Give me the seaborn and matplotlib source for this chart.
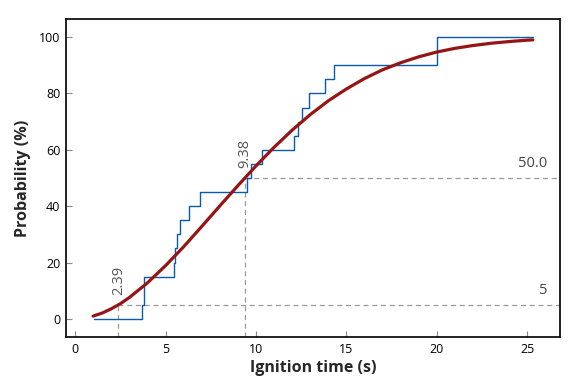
import pandas as pd
import matplotlib
matplotlib.use('Agg')
import matplotlib.pyplot as plt
import seaborn as sns

step_t = [1.05, 3.72, 3.83, 5.45, 5.54, 5.65, 5.81, 6.31, 6.92, 9.51, 9.72,
          10.33, 12.1, 12.33, 12.55, 12.93, 13.8, 14.3, 20.0, 25.3]
step_p = [0, 5, 15, 20, 25, 30, 35, 40, 45, 50, 55,
          60, 65, 70, 75, 80, 85, 90, 100, 100]

# fitted curve, read at each second
fit_t = [1, 1.5, 2, 2.5, 3, 4, 5, 6, 7, 8, 9, 10, 11, 12, 13, 14, 15, 16,
         17, 18, 19, 20, 21, 22, 23, 24, 25, 25.3]
fit_p = [1.0, 2.1, 3.6, 5.4, 7.6, 12.8, 18.9, 25.6, 32.8, 40.1, 47.3, 54.3,
         60.9, 67.0, 72.5, 77.4, 81.6, 85.3, 88.4, 90.9, 93.0, 94.7, 96.0,
         97.0, 97.8, 98.4, 98.9, 99.0]

# percentile markers
pct_levels = [5, 50]
pct_times = [2.39, 9.38]
pct_level_labels = ['5', '50.0']
pct_time_labels = ['2.39', '9.38']

sns.set_style('white')
plt.rcParams['font.family'] = ['Open Sans', 'DejaVu Sans']

steps = pd.DataFrame({'t': step_t, 'p': step_p})
fit = pd.DataFrame({'t': fit_t, 'p': fit_p})

fig = plt.figure(figsize=(5.76, 3.84), dpi=100)
ax = fig.add_axes([66/576, 1-337/384, (560-66)/576, (337-19)/384])

xmin, xmax = -0.5, 26.8
ymin, ymax = -6.4, 106.4

for lvl, tm, ll, tl in zip(pct_levels, pct_times, pct_level_labels, pct_time_labels):
    ax.plot([tm, xmax], [lvl, lvl], ls='--', color='#999999', lw=0.9, dashes=(4, 3))
    ax.plot([tm, tm], [ymin, lvl], ls='--', color='#999999', lw=0.9, dashes=(4, 3))
    ax.text(26.1, lvl + 2.5, ll, ha='right', va='bottom', color='#444444',
            fontsize=10.5, fontweight='medium')
    ax.text(tm, lvl + 3.5, tl, rotation=90, ha='center', va='bottom',
            color='#555555', fontsize=10.5, fontweight='medium')

sns.lineplot(x='t', y='p', data=steps, drawstyle='steps-post', color='#0a5aa8',
             lw=1.0, ax=ax)
sns.lineplot(x='t', y='p', data=fit, color='#951515', lw=2.3, ax=ax)

ax.set_xlim(xmin, xmax)
ax.set_ylim(ymin, ymax)
ax.set_xticks([0, 5, 10, 15, 20, 25])
ax.set_yticks([0, 20, 40, 60, 80, 100])
ax.tick_params(direction='in', length=4, color='#888888', labelsize=9,
               labelcolor='black', pad=4, bottom=True, left=True)
for lab in ax.get_xticklabels() + ax.get_yticklabels():
    lab.set_fontweight('medium')
for s in ax.spines.values():
    s.set_color('#111111')
    s.set_linewidth(1.3)

ax.set_xlabel('Ignition time (s)', fontsize=11.5, fontweight='bold', labelpad=3)
ax.set_ylabel('Probability (%)', fontsize=11.5, fontweight='bold', labelpad=6)

plt.savefig('out.png', dpi=100)
plt.close()
